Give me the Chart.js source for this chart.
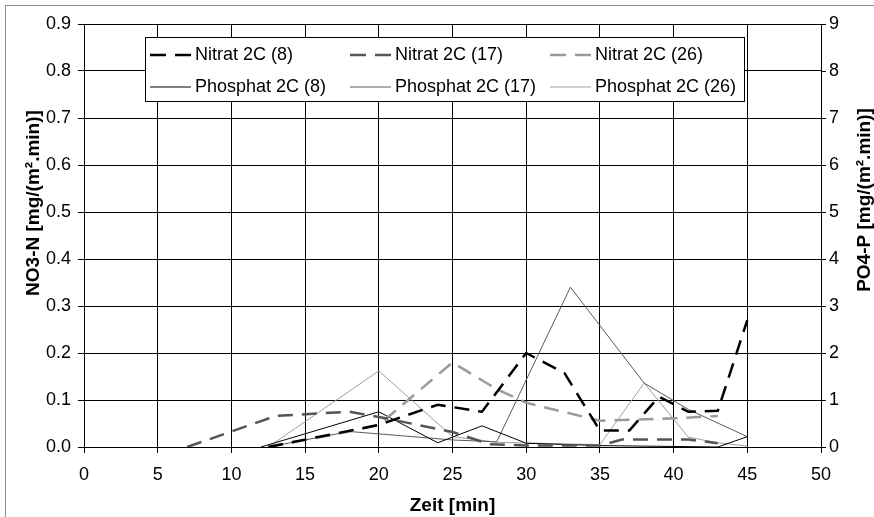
<!DOCTYPE html>
<html><head><meta charset="utf-8">
<script src="https://cdn.jsdelivr.net/npm/chart.js@4"></script>
<style>html,body{margin:0;padding:0;background:#fff;}</style>
</head><body>
<canvas id="c" width="874" height="517"></canvas>
<script>
// ---- data ----
const seriesNames = ['Nitrat 2C (8)', 'Nitrat 2C (17)', 'Nitrat 2C (26)', 'Phosphat 2C (8)', 'Phosphat 2C (17)', 'Phosphat 2C (26)'];

const nitrat8Time = [12.5, 20, 24, 27, 30, 32.6, 35, 37, 39, 41, 43, 45];
const nitrat8 = [0, 0.047, 0.09, 0.075, 0.2, 0.157, 0.035, 0.035, 0.107, 0.075, 0.077, 0.27];

const nitrat17Time = [7, 13, 18, 20, 25, 27.5, 30, 35, 36.5, 41, 43];
const nitrat17 = [0, 0.066, 0.075, 0.064, 0.032, 0.006, 0.003, 0.003, 0.016, 0.016, 0.008];

const nitrat26Time = [12.5, 18, 20, 25, 28, 30, 35, 40, 43];
const nitrat26 = [0, 0.033, 0.047, 0.18, 0.123, 0.094, 0.056, 0.061, 0.066];

const phosphat8Time = [12, 20, 24, 27, 30, 35, 43, 45];
const phosphat8 = [0, 0.75, 0.09, 0.45, 0.08, 0.03, 0, 0.22];

const phosphat17Time = [12.5, 18, 25, 28, 33, 38, 41, 45];
const phosphat17 = [0, 0.33, 0.15, 0.11, 3.4, 1.36, 0.8, 0.22];

const phosphat26Time = [12.5, 20, 25, 28, 35, 38, 41, 43, 45];
const phosphat26 = [0, 1.62, 0.22, 0.1, 0.05, 1.36, 0.21, 0.09, 0.02];

const xTicks = [0, 5, 10, 15, 20, 25, 30, 35, 40, 45, 50];
const no3Ticks = [0, 0.1, 0.2, 0.3, 0.4, 0.5, 0.6, 0.7, 0.8, 0.9];
const po4Ticks = [0, 1, 2, 3, 4, 5, 6, 7, 8, 9];

const xTitle = 'Zeit [min]';
const leftTitle = 'NO3-N [mg/(m².min)]';
const rightTitle = 'PO4-P [mg/(m².min)]';

// ---- chart ----
const FONT = '"Liberation Sans", Arial, Helvetica, sans-serif';
Chart.defaults.font.family = FONT;
Chart.defaults.font.size = 18;
Chart.defaults.color = '#000';

function pts(t, v) { return t.map((x, i) => ({ x: x, y: v[i] })); }

const DASH = [15, 9];
const styles = [
  { color: '#000000', width: 2.5, dash: DASH, axis: 'y' },
  { color: '#555555', width: 2.5, dash: DASH, axis: 'y' },
  { color: '#9a9a9a', width: 2.5, dash: DASH, axis: 'y' },
  { color: '#000000', width: 1, dash: [], axis: 'y2' },
  { color: '#5a5a5a', width: 1, dash: [], axis: 'y2' },
  { color: '#9f9f9f', width: 1, dash: [], axis: 'y2' }
];
const seriesData = [
  pts(nitrat8Time, nitrat8), pts(nitrat17Time, nitrat17), pts(nitrat26Time, nitrat26),
  pts(phosphat8Time, phosphat8), pts(phosphat17Time, phosphat17), pts(phosphat26Time, phosphat26)
];

const datasets = seriesNames.map((name, i) => ({
  label: name,
  data: seriesData[i],
  yAxisID: styles[i].axis,
  borderColor: styles[i].color,
  backgroundColor: styles[i].color,
  borderWidth: styles[i].width,
  borderDash: styles[i].dash,
  pointRadius: 0,
  pointHoverRadius: 0,
  tension: 0,
  fill: false,
  borderCapStyle: 'butt',
  borderJoinStyle: 'miter'
}));

const decor = {
  id: 'decor',
  beforeDraw(chart) {
    const ctx = chart.ctx;
    ctx.save();
    ctx.fillStyle = '#fff';
    ctx.fillRect(0, 0, chart.width, chart.height);
    ctx.strokeStyle = '#8c8c8c';
    ctx.lineWidth = 1;
    ctx.strokeRect(5.5, 5.5, chart.width + 20, chart.height + 20);
    ctx.restore();
  },
  afterDraw(chart) {
    const ctx = chart.ctx;
    ctx.save();
    // side titles
    ctx.fillStyle = '#000';
    ctx.font = 'bold 19px ' + FONT;
    ctx.textAlign = 'center';
    ctx.textBaseline = 'middle';
    ctx.save(); ctx.translate(34, 203); ctx.rotate(-Math.PI / 2); ctx.fillText(leftTitle, 0, 0); ctx.restore();
    ctx.save(); ctx.translate(865, 200); ctx.rotate(-Math.PI / 2); ctx.fillText(rightTitle, 0, 0); ctx.restore();

    // legend box
    const bx = 145.5, by = 37.5, bw = 599, bh = 64;
    ctx.fillStyle = '#fff';
    ctx.fillRect(bx, by, bw, bh);
    ctx.strokeStyle = '#000';
    ctx.lineWidth = 1;
    ctx.strokeRect(bx, by, bw, bh);
    const colX = [150, 350, 550];
    const rowY = [55, 87];
    ctx.font = '18px ' + FONT;
    ctx.textAlign = 'left';
    ctx.textBaseline = 'middle';
    chart.data.datasets.forEach((ds, i) => {
      const r = i < 3 ? 0 : 1, c = i % 3;
      const x0 = colX[c], y = rowY[r];
      ctx.save();
      ctx.strokeStyle = ds.borderColor;
      ctx.lineWidth = ds.borderWidth;
      ctx.setLineDash(ds.borderDash.length ? [16, 9] : []);
      ctx.beginPath();
      ctx.moveTo(x0, y);
      ctx.lineTo(x0 + 41, y);
      ctx.stroke();
      ctx.restore();
      ctx.fillStyle = '#000';
      ctx.fillText(ds.label, x0 + 45, y);
    });
    ctx.restore();
  }
};

new Chart(document.getElementById('c'), {
  type: 'line',
  data: { datasets: datasets },
  plugins: [decor],
  options: {
    responsive: false,
    devicePixelRatio: 1,
    animation: false,
    events: [],
    layout: { padding: { top: 24, left: 0, right: 0, bottom: 0 } },
    plugins: { legend: { display: false }, tooltip: { enabled: false } },
    scales: {
      x: {
        type: 'linear', position: 'bottom', min: 0, max: 50,
        afterBuildTicks: s => { s.ticks = xTicks.map(v => ({ value: v })); },
        afterFit: s => { s.height = 70; },
        ticks: { padding: 11, maxRotation: 0, autoSkip: false, callback: v => String(v) },
        grid: { color: '#000', lineWidth: 1, tickLength: 6 },
        border: { color: '#000', width: 1 },
        title: { display: true, text: xTitle, font: { size: 19, weight: 'bold' }, padding: { top: 0, bottom: 0 } }
      },
      y: {
        type: 'linear', position: 'left', min: 0, max: 0.9,
        afterBuildTicks: s => { s.ticks = no3Ticks.map(v => ({ value: v })); },
        afterFit: s => { s.width = 84; },
        ticks: { padding: 7, callback: v => Number(v).toFixed(1) },
        grid: { color: '#000', lineWidth: 1, tickLength: 6 },
        border: { color: '#000', width: 1 }
      },
      y2: {
        type: 'linear', position: 'right', min: 0, max: 9,
        afterBuildTicks: s => { s.ticks = po4Ticks.map(v => ({ value: v })); },
        afterFit: s => { s.width = 53; },
        ticks: { padding: 3, callback: v => String(v) },
        grid: { color: '#000', lineWidth: 1, tickLength: 5, drawOnChartArea: false },
        border: { color: '#000', width: 1 }
      }
    }
  }
});
</script>
</body></html>
